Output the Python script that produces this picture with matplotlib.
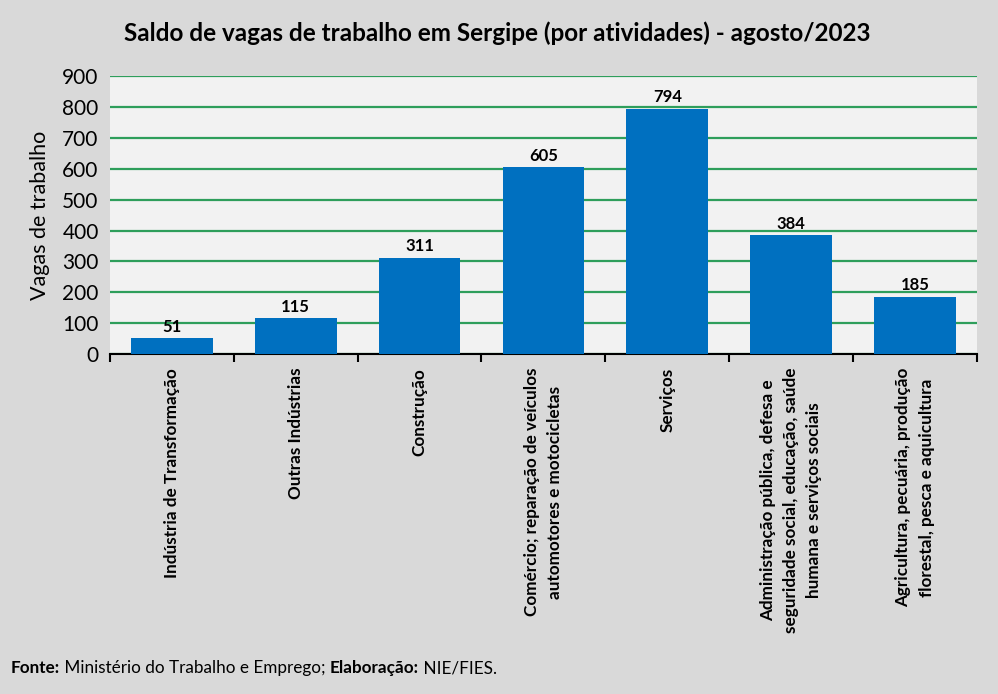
import numpy as np
import matplotlib.pyplot as plt

atividades = [
    "Indústria de Transformação",
    "Outras Indústrias",
    "Construção",
    "Comércio; reparação de veículos\nautomotores e motocicletas",
    "Serviços",
    "Administração pública, defesa e\nseguridade social, educação, saúde\nhumana e serviços sociais",
    "Agricultura, pecuária, produção\nflorestal, pesca e aquicultura",
]
saldo = [51, 115, 311, 605, 794, 384, 185]

plt.rcParams['font.family'] = ['Lato', 'DejaVu Sans']

fig = plt.figure(figsize=(9.98, 6.94), dpi=100, facecolor='#D9D9D9')
ax = fig.add_axes([0.110, 0.490, 0.869, 0.400])
ax.set_facecolor('#F2F2F2')

x = np.arange(len(saldo))
ax.bar(x, saldo, width=0.66, color='#0070C0', zorder=3)
for xi, v in zip(x, saldo):
    ax.text(xi, v + 12, str(v), ha='center', va='bottom', fontsize=12,
            fontweight='bold', zorder=4)

ax.set_xlim(-0.5, len(saldo) - 0.5)
ax.set_ylim(0, 900)
ax.set_yticks(np.arange(0, 901, 100))
ax.yaxis.grid(True, color='#2E9E5B', linewidth=1.6, zorder=1)
ax.tick_params(axis='y', length=0, labelsize=15, pad=8)

# marcas nas divisões das categorias, rótulos no centro
ax.set_xticks(np.arange(-0.5, len(saldo), 1.0))
ax.set_xticklabels([])
ax.tick_params(axis='x', which='major', length=6, width=1.5, direction='out')
ax.set_xticks(x, minor=True)
ax.set_xticklabels(atividades, minor=True, rotation=90, ha='center', va='top',
                   multialignment='center', fontsize=12.3, fontweight='bold',
                   linespacing=1.55)
ax.tick_params(axis='x', which='minor', length=0, pad=10)

for s in ['top', 'right', 'left']:
    ax.spines[s].set_visible(False)
ax.spines['bottom'].set_linewidth(1.5)

ax.set_ylabel('Vagas de trabalho', fontsize=15.5, labelpad=9)

fig.text(0.498, 0.952, 'Saldo de vagas de trabalho em Sergipe (por atividades) - agosto/2023',
         ha='center', va='center', fontsize=17.5, fontweight='bold')

t1 = fig.text(0.011, 0.03, 'Fonte:', fontsize=12.3, fontweight='bold', va='baseline')
t2 = ax.annotate(' Ministério do Trabalho e Emprego; ', xy=(1, 0), xycoords=t1,
                 fontsize=12.3, va='bottom', annotation_clip=False)
t3 = ax.annotate('Elaboração:', xy=(1, 0), xycoords=t2, fontsize=12.3,
                 fontweight='bold', va='bottom', annotation_clip=False)
ax.annotate(' NIE/FIES.', xy=(1, 0), xycoords=t3, fontsize=12.3, va='bottom',
            annotation_clip=False)

fig.savefig('out.png', dpi=100, facecolor=fig.get_facecolor())
